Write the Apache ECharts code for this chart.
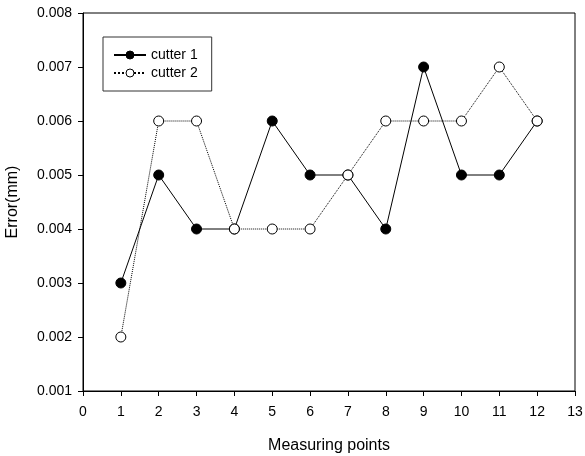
<!DOCTYPE html>
<html>
<head>
<meta charset="utf-8">
<script src="https://cdn.jsdelivr.net/npm/echarts@6/dist/echarts.min.js"></script>
<style>
  html, body { margin: 0; padding: 0; background: #fff; }
  #main { width: 585px; height: 456px; }
</style>
</head>
<body>
<div id="main"></div>
<script>
var points = [1, 2, 3, 4, 5, 6, 7, 8, 9, 10, 11, 12];
var cutter1 = [0.003, 0.005, 0.004, 0.004, 0.006, 0.005, 0.005, 0.004, 0.007, 0.005, 0.005, 0.006];
var cutter2 = [0.002, 0.006, 0.006, 0.004, 0.004, 0.004, 0.005, 0.006, 0.006, 0.006, 0.007, 0.006];
var seriesNames = ['cutter 1', 'cutter 2'];

function pairs(ys) {
  return points.map(function (x, i) { return [x, ys[i]]; });
}

var font = 'Liberation Sans, Arial, sans-serif';
var myChart = echarts.init(document.getElementById('main'));

var option = {
  animation: false,
  textStyle: { fontFamily: font },
  grid: {
    left: 83, right: 10, top: 13, bottom: 65,
    outerBoundsMode: 'none',
    containLabel: false,
    show: true, borderColor: '#000', borderWidth: 1
  },
  legend: {
    data: seriesNames,
    orient: 'vertical',
    left: 103, top: 37,
    width: 110,
    padding: [11, 14, 11, 10],
    itemGap: 4,
    itemWidth: 32, itemHeight: 10,
    itemStyle: { borderWidth: 1 },
    borderColor: '#333', borderWidth: 1,
    textStyle: { fontSize: 14, color: '#000', fontFamily: font }
  },
  xAxis: {
    type: 'value',
    min: 0, max: 13, interval: 1,
    name: 'Measuring points',
    nameLocation: 'middle',
    nameGap: 47,
    nameTextStyle: { fontSize: 16, color: '#000' },
    axisLine: { lineStyle: { color: '#000' } },
    axisTick: { inside: false, length: 5, lineStyle: { color: '#000' } },
    axisLabel: { fontSize: 14, color: '#000', margin: 14 },
    splitLine: { show: false }
  },
  yAxis: {
    type: 'value',
    min: 0.001, max: 0.008, interval: 0.001,
    name: 'Error(mm)',
    nameLocation: 'middle',
    nameGap: 62,
    nameTextStyle: { fontSize: 16, color: '#000' },
    axisLine: { show: true, lineStyle: { color: '#000' } },
    axisTick: { show: true, inside: false, length: 5, lineStyle: { color: '#000' } },
    axisLabel: {
      fontSize: 14, color: '#000', margin: 11,
      formatter: function (v) { return v.toFixed(3); }
    },
    splitLine: { show: false }
  },
  series: [
    {
      name: seriesNames[0],
      type: 'line',
      data: pairs(cutter1),
      symbol: 'circle',
      symbolSize: 10,
      lineStyle: { color: '#000', width: 1, type: 'solid' },
      itemStyle: { color: '#000', borderColor: '#000', borderWidth: 1 }
    },
    {
      name: seriesNames[1],
      type: 'line',
      data: pairs(cutter2),
      symbol: 'circle',
      symbolSize: 10,
      lineStyle: { color: '#000', width: 1, type: 'dotted' },
      itemStyle: { color: '#fff', borderColor: '#000', borderWidth: 1 }
    }
  ]
};

myChart.setOption(option);
</script>
</body>
</html>
